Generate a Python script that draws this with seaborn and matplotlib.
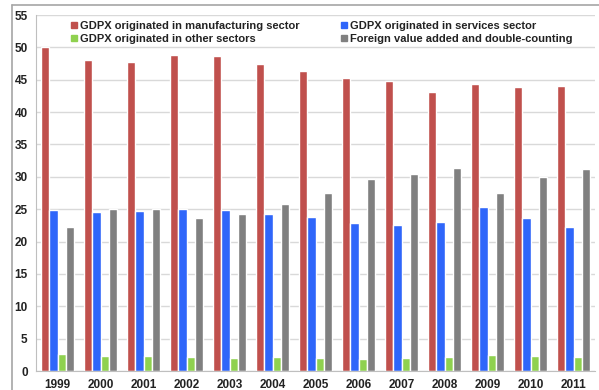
import numpy as np
import pandas as pd
import matplotlib.pyplot as plt
import seaborn as sns
from matplotlib.lines import Line2D

years = ['1999', '2000', '2001', '2002', '2003', '2004', '2005',
         '2006', '2007', '2008', '2009', '2010', '2011']
manufacturing = [50.0, 48.1, 47.8, 48.8, 48.6, 47.5, 46.3, 45.3, 44.8, 43.1, 44.4, 43.9, 44.1]
services = [24.8, 24.5, 24.7, 25.1, 24.9, 24.2, 23.8, 22.9, 22.5, 23.0, 25.3, 23.6, 22.3]
other = [2.7, 2.3, 2.3, 2.2, 2.0, 2.2, 2.0, 1.9, 2.0, 2.2, 2.5, 2.3, 2.2]
foreign = [22.3, 25.0, 25.0, 23.7, 24.2, 25.8, 27.5, 29.6, 30.4, 31.4, 27.5, 30.0, 31.2]

series_names = ['GDPX originated in manufacturing sector',
                'GDPX originated in services sector',
                'GDPX originated in other sectors',
                'Foreign value added and double-counting']
series_colors = ['#C0504D', '#2F66FA', '#8FD14F', '#808080']

frames = []
for name, vals in zip(series_names, [manufacturing, services, other, foreign]):
    frames.append(pd.DataFrame({'year': years, 'value': vals, 'series': name}))
df = pd.concat(frames, ignore_index=True)

sns.set_style("white")
plt.rcParams['font.family'] = ['Liberation Sans', 'DejaVu Sans']

fig = plt.figure(figsize=(5.99, 3.90), dpi=100)
ax = fig.add_axes([36 / 599, 19 / 390, 559 / 599, 356 / 390])

sns.barplot(data=df, x='year', y='value', hue='series', hue_order=series_names,
            palette=series_colors, width=0.75, saturation=1, errorbar=None,
            ax=ax, legend=False)

ax.set_ylim(0, 55)
ax.set_xlim(-0.5, len(years) - 0.5)
ax.set_yticks(range(0, 56, 5))
ax.yaxis.grid(True, color='#D9D9D9', linewidth=1)
ax.set_axisbelow(True)
ax.set_xlabel('')
ax.set_ylabel('')

for side in ['top', 'right']:
    ax.spines[side].set_visible(False)
ax.spines['left'].set_color('#BFBFBF')
ax.spines['bottom'].set_color('#BFBFBF')

ax.tick_params(axis='y', which='major', length=3, color='#BFBFBF', labelsize=8.5, pad=3)
ax.tick_params(axis='x', which='major', length=0, labelsize=8.5, pad=6)
ax.set_xticks(np.arange(-0.5, len(years), 1), minor=True)
ax.tick_params(axis='x', which='minor', length=4, color='#BFBFBF')
for lab in ax.get_xticklabels() + ax.get_yticklabels():
    lab.set_fontweight('bold')
    lab.set_color('#222222')

# legend filled column-wise: reorder so rows read manufacturing/services, other/foreign
order = [0, 2, 1, 3]
handles = [Line2D([0], [0], marker='s', linestyle='', markersize=4.5,
                  markerfacecolor=series_colors[i], markeredgecolor=series_colors[i])
           for i in order]
labels = [series_names[i] for i in order]
leg = ax.legend(handles, labels, ncol=2, loc='upper left',
                bbox_to_anchor=(0.05, 1.0), frameon=False, fontsize=8,
                handletextpad=0.15, columnspacing=3.6, labelspacing=0.3,
                handlelength=0.8, borderaxespad=0.1)
for t in leg.get_texts():
    t.set_fontweight('bold')
    t.set_color('#222222')

# outer frame of the original chart
fig.add_artist(Line2D([12 / 599, 12 / 599], [0, 385 / 390], color='#A6A6A6', linewidth=1.2))
fig.add_artist(Line2D([12 / 599, 1], [385 / 390, 385 / 390], color='#A6A6A6', linewidth=1.2))

fig.savefig('out.png', dpi=100)
